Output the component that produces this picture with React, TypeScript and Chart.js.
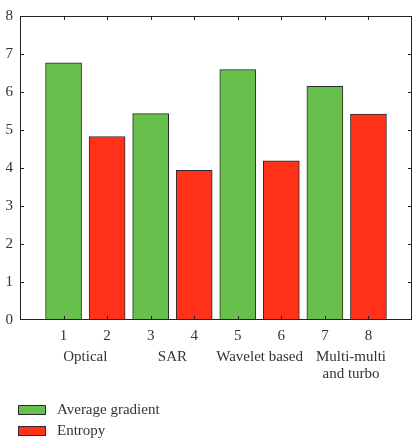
import { useEffect, useRef } from "react";
import { Chart, registerables } from "chart.js";

Chart.register(...registerables);

// Bar positions along the x axis and their values
const gradientX = [1, 3, 5, 7];
const gradientValues = [6.77, 5.43, 6.59, 6.15];
const entropyX = [2, 4, 6, 8];
const entropyValues = [4.83, 3.94, 4.19, 5.42];

// Method groups written under each pair of bars
const groupLabels = [["Optical"], ["SAR"], ["Wavelet based"], ["Multi-multi", "and turbo"]];
const groupCenters = [1.5, 3.5, 5.5, 7.6];

const seriesNames = ["Average gradient", "Entropy"];
const GREEN = "#67c04b";
const RED = "#ff3219";
const EDGE = "#2b2b2b";
const FONT = "'Liberation Serif', 'DejaVu Serif', serif";

const frameAndText = {
  id: "frameAndText",
  afterDraw(chart: any) {
    const { ctx, chartArea: a, scales } = chart;
    const x = scales.x;
    const y = scales.y;
    ctx.save();
    // Box around the plot with inward ticks
    ctx.strokeStyle = "#222";
    ctx.lineWidth = 1;
    ctx.strokeRect(a.left + 0.5, a.top + 0.5, a.right - a.left - 1, a.bottom - a.top - 1);
    ctx.beginPath();
    for (let v = 1; v < 8; v++) {
      const py = Math.round(y.getPixelForValue(v)) + 0.5;
      ctx.moveTo(a.left, py);
      ctx.lineTo(a.left + 4, py);
      ctx.moveTo(a.right, py);
      ctx.lineTo(a.right - 4, py);
    }
    for (let v = 1; v <= 8; v++) {
      const px = Math.round(x.getPixelForValue(v)) + 0.5;
      ctx.moveTo(px, a.top);
      ctx.lineTo(px, a.top + 4);
      ctx.moveTo(px, a.bottom);
      ctx.lineTo(px, a.bottom - 4);
    }
    ctx.stroke();

    // Group captions
    ctx.fillStyle = "#333";
    ctx.font = `15px ${FONT}`;
    ctx.textAlign = "center";
    ctx.textBaseline = "middle";
    groupLabels.forEach((lines, i) => {
      const cx = x.getPixelForValue(groupCenters[i]);
      lines.forEach((t, j) => ctx.fillText(t, cx, 357 + j * 17));
    });

    // Legend
    ctx.textAlign = "left";
    [GREEN, RED].forEach((c, i) => {
      const top = 405 + i * 21;
      ctx.fillStyle = c;
      ctx.fillRect(18, top, 28, 10);
      ctx.strokeStyle = EDGE;
      ctx.strokeRect(18.5, top + 0.5, 27, 9);
      ctx.fillStyle = "#333";
      ctx.fillText(seriesNames[i], 57, top + 5);
    });
    ctx.restore();
  },
};

export default function App() {
  const ref = useRef<HTMLCanvasElement>(null);

  useEffect(() => {
    if (!ref.current) return;
    const chart = new Chart(ref.current, {
      type: "bar",
      data: {
        datasets: [
          {
            label: seriesNames[0],
            data: gradientX.map((px, i) => ({ x: px, y: gradientValues[i] })),
            backgroundColor: GREEN,
            borderColor: EDGE,
            borderWidth: 1,
          },
          {
            label: seriesNames[1],
            data: entropyX.map((px, i) => ({ x: px, y: entropyValues[i] })),
            backgroundColor: RED,
            borderColor: EDGE,
            borderWidth: 1,
          },
        ],
      },
      options: {
        responsive: false,
        animation: false,
        layout: { padding: { top: 9, right: 6, left: 0, bottom: 0 } },
        datasets: { bar: { grouped: false, barThickness: 36 } } as any,
        plugins: { legend: { display: false }, tooltip: { enabled: false } },
        scales: {
          x: {
            type: "linear",
            min: 0,
            max: 9,
            offset: false,
            grid: { display: false, drawTicks: false },
            border: { display: false },
            afterFit: (s: any) => {
              s.height = 121;
            },
            ticks: {
              stepSize: 1,
              padding: 7,
              color: "#333",
              font: { family: FONT, size: 15 },
              callback: (v: any) => (v >= 1 && v <= 8 ? String(v) : ""),
            },
          },
          y: {
            min: 0,
            max: 8,
            grid: { display: false, drawTicks: false },
            border: { display: false },
            afterFit: (s: any) => {
              s.width = 20;
            },
            ticks: {
              stepSize: 1,
              padding: 7,
              color: "#333",
              font: { family: FONT, size: 15 },
            },
          },
        },
      },
      plugins: [frameAndText],
    });
    return () => chart.destroy();
  }, []);

  return (
    <div style={{ position: "fixed", left: 0, top: 0, width: 419, height: 441, background: "#fff" }}>
      <canvas ref={ref} width={419} height={441} />
    </div>
  );
}
